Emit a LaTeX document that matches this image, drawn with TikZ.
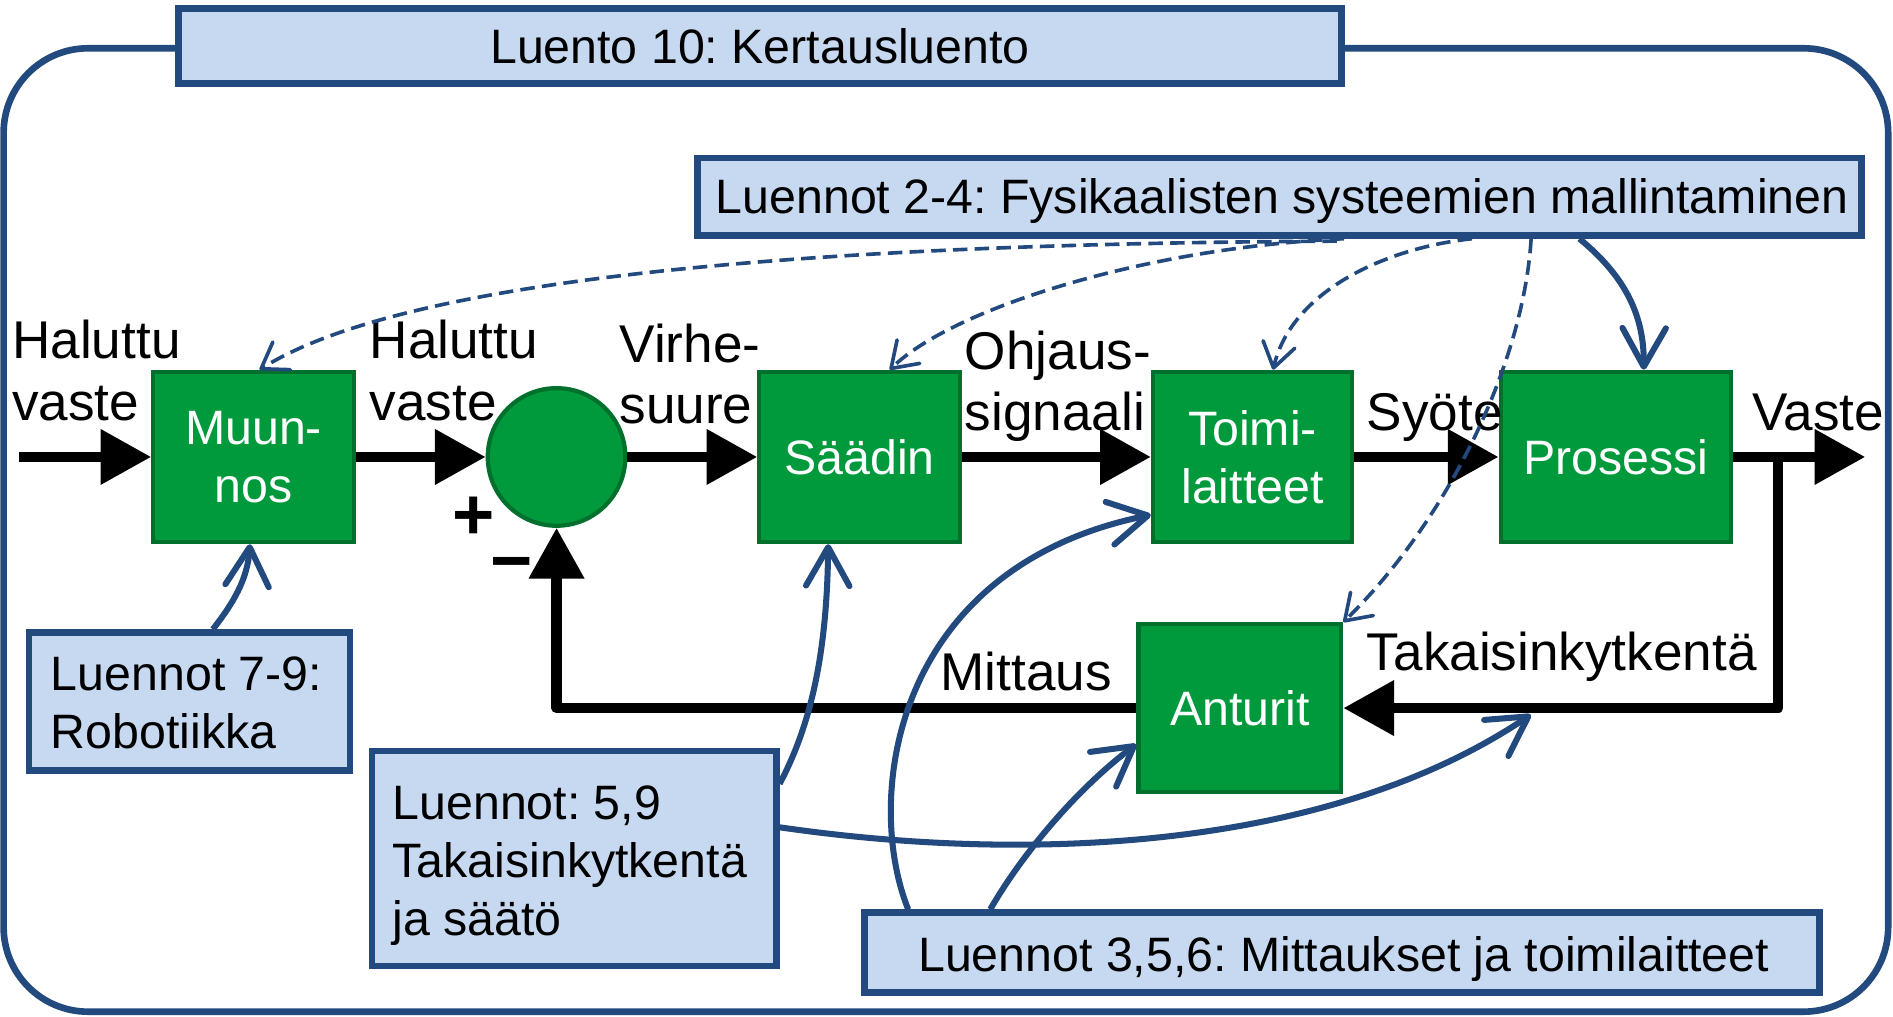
\documentclass[tikz,border=0pt]{standalone}
\usepackage{fontspec}
\setmainfont{Liberation Sans}
\usetikzlibrary{arrows.meta,calc}
\definecolor{lblue}{RGB}{198,217,241}
\definecolor{dblue}{RGB}{35,74,126}
\definecolor{gfill}{RGB}{0,154,61}
\definecolor{gdraw}{RGB}{0,112,44}
\frenchspacing
\begin{document}
\begin{tikzpicture}[x=1pt,y=-1pt,
 gbox/.style={draw=gdraw,fill=gfill,line width=3.5pt,inner sep=0pt,text=white,font=\fontsize{40}{48}\selectfont,align=center},
 bbox/.style={draw=dblue,fill=lblue,line width=5.5pt,inner sep=0pt},
 btxt/.style={font=\fontsize{40}{48}\selectfont,inner sep=0pt,anchor=base west},
 lbl/.style={font=\fontsize{44}{52}\selectfont,inner sep=0pt,anchor=base west},
 pm/.style={font=\fontsize{60}{60}\selectfont\bfseries,inner sep=0pt,anchor=base},
 sig/.style={line width=8.5pt,line join=round,-{Triangle[length=42pt,width=44pt]}},
 lec/.style={dblue,line width=5pt,-{Straight Barb[length=32pt,width=36pt,round]}},
 lecd/.style={dblue,line width=3pt,dash pattern=on 12pt off 6pt,-{Straight Barb[length=20pt,width=27pt,round]}}]
\useasboundingbox (0,0) rectangle (1568,842);
% outer frame
\draw[dblue,line width=5.5pt,rounded corners=70pt] (3,40) rectangle (1564,838);
% lecture boxes
\node[bbox,minimum width=963pt,minimum height=62pt] (title) at (629.5,38) {};
\node[btxt,anchor=base] (titletxt) at (629.5,53) {Luento 10: Kertausluento};
\node[bbox,minimum width=964pt,minimum height=64pt] (box24) at (1060,163) {};
\node[btxt,anchor=base] (box24txt) at (1062,177) {Luennot 2-4: Fysikaalisten systeemien mallintaminen};
\node[bbox,minimum width=266pt,minimum height=114pt] (b79) at (157,581) {};
\node[btxt] (b79a) at (42,572) {Luennot 7-9:};
\node[btxt] (b79b) at (42,620) {Robotiikka};
\node[bbox,minimum width=335pt,minimum height=178pt] (b59) at (475.5,711) {};
\node[btxt] (b59a) at (325,679) {Luennot: 5,9};
\node[btxt] (b59b) at (325,727) {Takaisinkytkentä};
\node[btxt] (b59c) at (325,775) {ja säätö};
\node[bbox,minimum width=791pt,minimum height=66pt] (b356) at (1111.5,789) {};
\node[btxt,anchor=base] (b356txt) at (1113,805) {Luennot 3,5,6: Mittaukset ja toimilaitteet};
% green blocks
\node[gbox,minimum width=166pt,minimum height=141pt] (muun) at (210,378.5) {Muun-\\nos};
\node[gbox,circle,minimum size=114pt] (sum) at (461,378.5) {};
\node[gbox,minimum width=166pt,minimum height=141pt] (saadin) at (712,378.5) {Säädin};
\node[gbox,minimum width=165pt,minimum height=141pt] (toimi) at (1037.5,378.5) {Toimi-\\laitteet};
\node[gbox,minimum width=191pt,minimum height=141pt] (proc) at (1338.5,378.5) {Prosessi};
\node[gbox,minimum width=168pt,minimum height=139pt] (ant) at (1027,586.5) {Anturit};
% signal lines
\coordinate (inp) at (16,378.5);
\coordinate (out) at (1545,378.5);
\coordinate (br) at (1473,378.5);
\draw[sig] (inp) -- (muun.west);
\draw[sig] (muun.east) -- (sum.west);
\draw[sig] (sum.east) -- (saadin.west);
\draw[sig] (saadin.east) -- (toimi.west);
\draw[sig] (toimi.east) -- (proc.west);
\draw[sig] (proc.east) -- (out);
\draw[sig] (br) |- (ant.east);
\draw[sig] (ant.west) -| (sum.south);
% labels
\node[lbl] (l1a) at (10,297) {Haluttu};
\node[lbl] (l1b) at (10,348) {vaste};
\node[lbl] (l2a) at (306,297) {Haluttu};
\node[lbl] (l2b) at (306,348) {vaste};
\node[lbl] (l3a) at (513,300) {Virhe-};
\node[lbl] (l3b) at (513,351) {suure};
\node[lbl] (l4a) at (799,306) {Ohjaus-};
\node[lbl] (l4b) at (799,357) {signaali};
\node[lbl] (l5) at (1132,357) {Syöte};
\node[lbl] (l6) at (1451,357) {Vaste};
\node[lbl] (l7) at (779,572) {Mittaus};
\node[lbl] (l8) at (1132,555) {Takaisinkytkentä};
\node[pm] (plus) at (392,447) {+};
\node[pm] (minus) at (424,485) {−};
% lecture connectors
\coordinate (fbpt) at (1268,592);
\draw[lec] ($(b79.north west)+(155,0)$) .. controls (193,500) and (205,480) .. ($(muun.south)+(-3,0)$);
\draw[lec] ($(b59.north east)+(0,30)$) .. controls (672,600) and (685,540) .. ($(saadin.south)+(-26,0)$);
\draw[lec] ($(b59.north east)+(0,66)$) .. controls (850,715) and (1100,705) .. (fbpt);
\draw[lec] ($(b356.north west)+(39,0)$) .. controls (715,660) and (740,470) .. ($(toimi.west)+(0,48)$);
\draw[lec] ($(b356.north west)+(107,0)$) .. controls (845,710) and (890,655) .. ($(ant.west)+(0,30)$);
\draw[lec] ($(box24.south west)+(733,0)$) .. controls (1345,228) and (1362,260) .. ($(proc.north)+(23,0)$);
\draw[lecd] ($(box24.south west)+(532,2)$) .. controls (600,202) and (320,240) .. ($(muun.north)+(5,0)$);
\draw[lecd] ($(box24.south west)+(538,0)$) .. controls (950,205) and (790,255) .. ($(saadin.north)+(25,0)$);
\draw[lecd] ($(box24.south west)+(644,0)$) .. controls (1150,205) and (1070,240) .. ($(toimi.north)+(17,0)$);
\draw[lecd] ($(box24.south west)+(693,0)$) .. controls (1262,300) and (1200,430) .. (ant.north east);
\end{tikzpicture}
\end{document}
